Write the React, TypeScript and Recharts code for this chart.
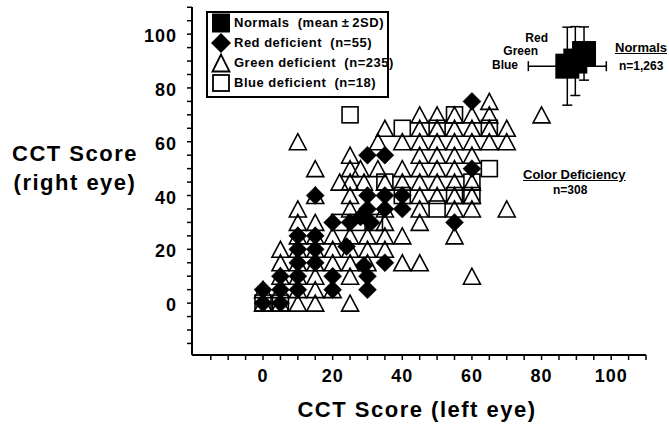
import React from "react";
import { ScatterChart, Scatter, XAxis, YAxis, ErrorBar } from "recharts";

// CCT scores: [left eye, right eye]
const redDeficient: [number, number][] = [
  [0, 0], [0, 5], [5, 0], [5, 5], [5, 10],
  [10, 5], [10, 10], [10, 15], [10, 20], [10, 25],
  [15, 15], [15, 20], [15, 25], [15, 40],
  [20, 5], [20, 10], [20, 30], [24, 21], [25, 30], [28, 32],
  [30, 5], [30, 10], [29, 14], [31, 30], [30, 35], [30, 40], [30, 55],
  [35, 15], [35, 35], [35, 40], [35, 55], [40, 35], [40, 40],
  [55, 30], [60, 50], [60, 75],
];

const greenDeficient: [number, number][] = [
  [0, 0], [0, 5],
  [5, 0], [5, 5], [5, 10], [5, 15], [5, 20],
  [10, 0], [10, 5], [10, 10], [10, 15], [10, 20], [10, 25], [10, 30], [10, 35], [10, 60],
  [15, 0], [15, 5], [15, 10], [15, 15], [15, 20], [15, 25], [15, 30], [15, 40], [15, 50],
  [20, 5], [20, 15], [20, 20], [20, 25], [22, 45],
  [25, 0], [25, 10], [25, 15], [25, 20], [25, 25], [25, 35], [25, 40], [25, 45], [25, 50], [25, 55],
  [30, 15], [30, 20], [30, 25], [29, 45], [28, 50], [33, 50], [33, 60],
  [35, 20], [35, 25], [35, 30], [35, 35], [35, 45], [35, 65],
  [40, 15], [40, 25], [40, 45], [40, 50], [40, 60],
  [45, 15], [45, 30], [45, 35], [45, 40], [45, 45], [45, 50], [45, 55], [45, 60], [45, 65], [45, 70],
  [50, 40], [50, 45], [50, 50], [50, 55], [50, 60], [50, 65], [50, 70],
  [55, 25], [55, 35], [55, 40], [55, 45], [55, 50], [55, 55], [55, 60], [55, 65], [55, 70],
  [60, 10], [60, 35], [60, 40], [60, 45], [60, 55], [60, 60], [60, 65], [60, 70],
  [65, 60], [65, 65], [65, 70], [65, 75],
  [70, 35], [70, 60], [70, 65],
  [80, 70],
];

const blueDeficient: [number, number][] = [
  [0, 0], [5, 0], [22, 30], [27, 30], [32, 30],
  [25, 70], [40, 65], [50, 65], [65, 65], [55, 70],
  [35, 45], [60, 45], [40, 40], [55, 40], [60, 40],
  [50, 35], [65, 50],
];

// Normals (mean ± 2SD), n = 1,263
const normalGroups = ["Blue", "Green", "Red"];
const normalLeftMean = [87.4, 89.7, 92.2];
const normalRightMean = [88.1, 90.0, 92.8];
const normalLeft2SD = [11.2, 0, 0];
const normalRight2SD = [14.5, 12.8, 9.9];

const xTicks = [-15, -10, -5, 0, 5, 10, 15, 20, 25, 30, 35, 40, 45, 50, 55, 60, 65, 70, 75, 80, 85, 90, 95, 100, 105, 110];
const yTicks = [-15, -10, -5, 0, 5, 10, 15, 20, 25, 30, 35, 40, 45, 50, 55, 60, 65, 70, 75, 80, 85, 90, 95, 100, 105, 110];
const tickLabels = [0, 20, 40, 60, 80, 100];

const toPoints = (arr: [number, number][]) => arr.map(([x, y]) => ({ x, y }));
const normals = normalGroups.map((g, i) => ({
  group: g,
  x: normalLeftMean[i],
  y: normalRightMean[i],
  errX: normalLeft2SD[i],
  errY: normalRight2SD[i],
}));

const FONT = "'Liberation Sans', Arial, Helvetica, sans-serif";
const INK = "#000";

const Triangle = (p: any) => (
  <polygon
    points={`${p.cx},${p.cy - 8} ${p.cx - 8.5},${p.cy + 8} ${p.cx + 8.5},${p.cy + 8}`}
    fill="none" stroke={INK} strokeWidth={1.6} strokeLinejoin="miter"
  />
);
const Diamond = (p: any) => (
  <polygon
    points={`${p.cx},${p.cy - 9} ${p.cx + 9},${p.cy} ${p.cx},${p.cy + 9} ${p.cx - 9},${p.cy}`}
    fill={INK} stroke={INK} strokeWidth={0.5}
  />
);
const OpenSquare = (p: any) => (
  <rect x={p.cx - 8} y={p.cy - 8} width={16} height={16} fill="none" stroke={INK} strokeWidth={1.6} />
);
const SolidSquare = (p: any) => (
  <rect x={p.cx - 12} y={p.cy - 12.5} width={24} height={25} fill={INK} />
);

const XTick = (p: any) => {
  const v = p.payload?.value;
  if (!tickLabels.includes(v)) return null;
  return (
    <text x={p.x} y={p.y} dy={20} textAnchor="middle" fontFamily={FONT} fontWeight={700}
      fontSize={18} fill={INK} style={{ letterSpacing: 1 }}>
      {v}
    </text>
  );
};
const YTick = (p: any) => {
  const v = p.payload?.value;
  if (!tickLabels.includes(v)) return null;
  return (
    <text x={p.x} y={p.y} dy={8} textAnchor="end" fontFamily={FONT} fontWeight={700}
      fontSize={18} fill={INK} style={{ letterSpacing: 1 }}>
      {v}
    </text>
  );
};

// lh: line-box height; the caps sit roughly centred in it
function Txt({ left, right, top, size, lh, children, underline, style }: any) {
  return (
    <div
      style={{
        position: "absolute", left, right, top, fontSize: size, lineHeight: `${lh ?? size}px`,
        fontWeight: 700, fontFamily: FONT, color: INK, whiteSpace: "pre",
        textDecoration: underline ? "underline" : undefined, ...style,
      }}
    >
      {children}
    </div>
  );
}

function LegendIcon({ kind }: { kind: string }) {
  return (
    <svg width={22} height={22} style={{ display: "block" }}>
      {kind === "solid" && <rect x={2} y={1.5} width={18} height={19} fill={INK} />}
      {kind === "diamond" && <polygon points="11,1 21,11 11,21 1,11" fill={INK} />}
      {kind === "tri" && <polygon points="11,2.5 2.5,19.5 19.5,19.5" fill="#fff" stroke={INK} strokeWidth={1.8} />}
      {kind === "open" && <rect x={3} y={3} width={16} height={16} fill="#fff" stroke={INK} strokeWidth={1.8} />}
    </svg>
  );
}

const legendRows = [
  { kind: "solid", label: "Normals  (mean\u2009±\u20092SD)", y: 23 },
  { kind: "diamond", label: "Red deficient  (n=55)", y: 43 },
  { kind: "tri", label: "Green deficient  (n=235)", y: 63 },
  { kind: "open", label: "Blue deficient  (n=18)", y: 83 },
];

export default function App() {
  return (
    <div style={{ position: "absolute", left: 0, top: 0, width: 669, height: 425, background: "#fff", overflow: "hidden" }}>
      <ScatterChart width={669} height={425} margin={{ top: 7, right: 23, bottom: 30, left: 132 }}>
        <XAxis
          type="number" dataKey="x" domain={[-20.4, 110]} ticks={xTicks} interval={0}
          allowDataOverflow height={40} tick={<XTick />} tickSize={5}
          axisLine={{ stroke: INK, strokeWidth: 2 }} tickLine={{ stroke: INK, strokeWidth: 1.5 }}
        />
        <YAxis
          type="number" dataKey="y" domain={[-19.3, 110.1]} ticks={yTicks} interval={0}
          allowDataOverflow width={60} tick={<YTick />} tickSize={5} tickMargin={10}
          axisLine={{ stroke: INK, strokeWidth: 2 }} tickLine={{ stroke: INK, strokeWidth: 1.5 }}
        />
        <Scatter data={toPoints(blueDeficient)} shape={OpenSquare} isAnimationActive={false} />
        <Scatter data={toPoints(greenDeficient)} shape={Triangle} isAnimationActive={false} />
        <Scatter data={toPoints(redDeficient)} shape={Diamond} isAnimationActive={false} />
        <Scatter data={normals} shape={SolidSquare} isAnimationActive={false}>
          <ErrorBar dataKey="errY" direction="y" width={5} stroke={INK} strokeWidth={1.5} />
          <ErrorBar dataKey="errX" direction="x" width={5} stroke={INK} strokeWidth={1.5} />
        </Scatter>
      </ScatterChart>

      {/* axis titles */}
      <div style={{ position: "absolute", left: 0, top: 139, width: 150, textAlign: "center", fontFamily: FONT, fontWeight: 700, fontSize: 22, lineHeight: "29px", letterSpacing: 1.5, color: INK }}>
        CCT Score<br />(right eye)
      </div>
      <div style={{ position: "absolute", left: 217, top: 395, width: 400, textAlign: "center", fontFamily: FONT, fontWeight: 700, fontSize: 22, lineHeight: "29px", letterSpacing: 1.5, color: INK }}>
        CCT Score (left eye)
      </div>

      {/* legend */}
      <div style={{ position: "absolute", left: 206, top: 11, width: 179, height: 83, border: "2px solid #000" }} />
      {legendRows.map((r) => (
        <React.Fragment key={r.kind}>
          <div style={{ position: "absolute", left: 210, top: r.y - 11 }}>
            <LegendIcon kind={r.kind} />
          </div>
          <Txt left={234} top={r.y - 7} size={13} style={{ letterSpacing: 0.5 }}>{r.label}</Txt>
        </React.Fragment>
      ))}

      {/* normals annotation */}
      <Txt right={669 - 548} top={33} size={12} lh={10}>Red</Txt>
      <Txt right={669 - 538} top={46} size={12} lh={10}>Green</Txt>
      <Txt right={669 - 518} top={59.5} size={12} lh={10}>Blue</Txt>
      <Txt left={615} top={48 - 7} size={13} underline>Normals</Txt>
      <Txt left={619} top={66 - 6.5} size={12}>n=1,263</Txt>

      {/* colour deficiency annotation */}
      <Txt left={523} top={175 - 7} size={13} underline>Color Deficiency</Txt>
      <Txt left={553} top={190 - 6.5} size={12}>n=308</Txt>
    </div>
  );
}
